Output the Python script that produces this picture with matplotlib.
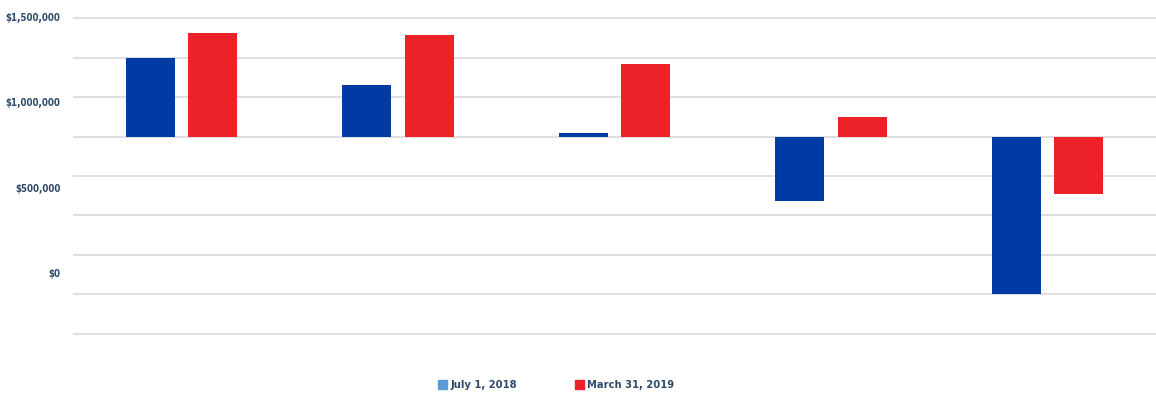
import matplotlib.pyplot as plt
import numpy as np
from matplotlib.patches import Patch
from matplotlib.ticker import FixedLocator, NullFormatter

# account balances, bars hang off the reference level
groups = ['A', 'B', 'C', 'D', 'E']
july_2018 = [1260000, 1100000, 820000, 420000, -120000]
march_2019 = [1405000, 1395000, 1225000, 915000, 465000]
series_names = ['July 1, 2018', 'March 31, 2019']
ref_level = 800000
grid_step = 231000
tick_values = [0, 500000, 1000000, 1500000]
tick_labels = ['$0', '$500,000', '$1,000,000', '$1,500,000']

BLUE = '#003aa5'
RED = '#ed2128'
LEGEND_BLUE = '#5b9bd5'
TEXT = '#2e4a6b'

plt.rcParams['font.family'] = ['DejaVu Sans']
plt.rcParams['font.stretch'] = 'condensed'

fig = plt.figure(figsize=(11.56, 3.98), dpi=100)
ax = fig.add_axes([73/1156, 0.1339, 1 - 73/1156, 0.849])

x = np.arange(len(groups))
w = 0.226
off = 0.144
ax.bar(x - off, np.array(july_2018) - ref_level, w, bottom=ref_level,
       color=BLUE, zorder=3)
ax.bar(x + off, np.array(march_2019) - ref_level, w, bottom=ref_level,
       color=RED, zorder=3)

ax.set_xlim(-0.5, len(groups) - 0.5)
ax.set_ylim(-420000, 1560000)

# gridlines follow the reference level, labels follow the dollar scale
ax.yaxis.set_major_locator(FixedLocator(tick_values))
ax.set_yticklabels(tick_labels)
ax.yaxis.set_minor_locator(FixedLocator(ref_level + grid_step * np.arange(-5, 4)))
ax.yaxis.set_minor_formatter(NullFormatter())
ax.grid(False)
ax.grid(axis='y', which='minor', color='#d9d9d9', linewidth=1.2, zorder=0)
ax.tick_params(axis='y', which='both', length=0, pad=9,
               labelsize=7, labelcolor=TEXT)
for t in ax.get_yticklabels():
    t.set_fontweight('bold')
    t.set_fontstretch('condensed')
ax.set_xticks([])
for s in ax.spines.values():
    s.set_visible(False)

handles = [Patch(color=LEGEND_BLUE), Patch(color=RED)]
fig.legend(handles, series_names, loc='center', bbox_to_anchor=(0.481, 0.032),
           ncol=2, frameon=False, handlelength=0.8, handleheight=0.8,
           handletextpad=0.3, columnspacing=5.2,
           prop={'size': 8, 'weight': 'bold', 'stretch': 'condensed'},
           labelcolor=TEXT)

fig.savefig('out.png', dpi=100)
